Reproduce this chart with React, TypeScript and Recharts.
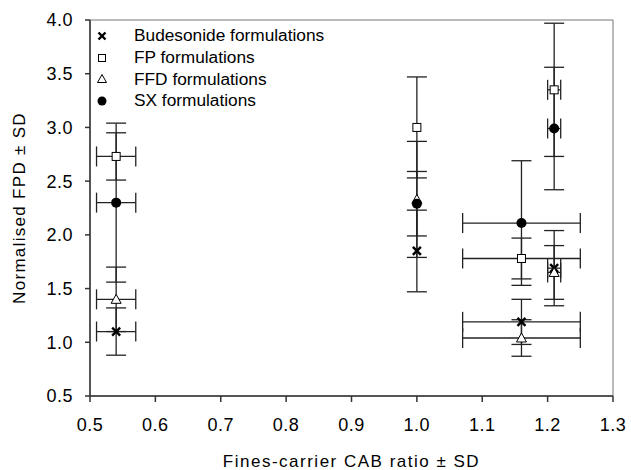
import React from 'react';
import {
    ScatterChart, Scatter, XAxis, YAxis, ErrorBar, Legend, ReferenceArea
} from 'recharts';

// fines-carrier CAB ratio (x) and its SD, shared by all four formulation groups
const cabRatio = [0.54, 1.0, 1.16, 1.21];
const cabRatioSD = [0.03, 0, 0.09, 0.01];

// normalised FPD (y) and SD per formulation group
const budesonideFPD = [1.10, 1.85, 1.19, 1.69];
const budesonideSD = [0.22, 0.38, 0.21, 0.35];
const fpFPD = [2.73, 3.00, 1.78, 3.35];
const fpSD = [0.22, 0.47, 0.19, 0.62];
const ffdFPD = [1.40, 2.33, 1.04, 1.65];
const ffdSD = [0.30, 0.54, 0.17, 0.25];
const sxFPD = [2.30, 2.29, 2.11, 2.99];
const sxSD = [0.74, 0.30, 0.58, 0.57];

const xTicks = [0.5, 0.6, 0.7, 0.8, 0.9, 1.0, 1.1, 1.2, 1.3];
const yTicks = [0.5, 1.0, 1.5, 2.0, 2.5, 3.0, 3.5, 4.0];

const FONT = '"Liberation Sans", Arial, sans-serif';

const toRows = (fpd: number[], sd: number[]) =>
    cabRatio.map((x, i) => ({ x, y: fpd[i], ex: cabRatioSD[i], ey: sd[i] }));

type MarkerKind = 'cross' | 'square' | 'triangle' | 'circle';

const Marker = ({ kind, cx, cy, s }: { kind: MarkerKind; cx: number; cy: number; s: number }) => {
    const h = s / 2;
    if (kind === 'cross') {
        return (
            <g stroke="#000" strokeWidth={2.4}>
                <line x1={cx - h} y1={cy - h} x2={cx + h} y2={cy + h} />
                <line x1={cx - h} y1={cy + h} x2={cx + h} y2={cy - h} />
            </g>
        );
    }
    if (kind === 'square') {
        return <rect x={cx - h} y={cy - h} width={s} height={s} fill="#fff" stroke="#000" strokeWidth={1} />;
    }
    if (kind === 'triangle') {
        return (
            <polygon
                points={`${cx},${cy - h - 1} ${cx + h + 1},${cy + h} ${cx - h - 1},${cy + h}`}
                fill="#fff" stroke="#000" strokeWidth={1}
            />
        );
    }
    return <circle cx={cx} cy={cy} r={h + 0.5} fill="#000" />;
};

const series: { name: string; kind: MarkerKind; data: any[] }[] = [
    { name: 'Budesonide formulations', kind: 'cross', data: toRows(budesonideFPD, budesonideSD) },
    { name: 'FP formulations', kind: 'square', data: toRows(fpFPD, fpSD) },
    { name: 'FFD formulations', kind: 'triangle', data: toRows(ffdFPD, ffdSD) },
    { name: 'SX formulations', kind: 'circle', data: toRows(sxFPD, sxSD) },
];

const LegendBox = () => (
    <div style={{ fontFamily: FONT, fontSize: 17.3, color: '#000' }}>
        {series.map(s => (
            <div key={s.name} style={{ display: 'flex', alignItems: 'center', height: 21.7 }}>
                <svg width={14} height={14} style={{ marginRight: 25 }}>
                    <Marker kind={s.kind} cx={7} cy={7} s={s.kind === 'circle' ? 8 : 7} />
                </svg>
                <span>{s.name}</span>
            </div>
        ))}
    </div>
);

const App: React.FC = () => {
    return (
        <div style={{ position: 'absolute', left: 0, top: 0, background: '#fff' }}>
            <ScatterChart
                width={631}
                height={470}
                margin={{ top: 20, right: 18, left: 0, bottom: 0 }}
            >
                {/* frame around the plot */}
                <ReferenceArea x1={0.5} x2={1.3} y1={0.5} y2={4.0} fill="none" stroke="#777" strokeWidth={1} />
                <XAxis
                    type="number"
                    dataKey="x"
                    domain={[0.5, 1.3]}
                    ticks={xTicks}
                    tickFormatter={(v: number) => v.toFixed(1)}
                    height={74}
                    tickSize={6}
                    tickMargin={16}
                    stroke="#333"
                    strokeWidth={1.5}
                    tick={{ fontFamily: FONT, fontSize: 18, fill: '#000', letterSpacing: 0.5 }}
                    label={{
                        value: 'Fines-carrier CAB ratio \u00b1 SD',
                        position: 'insideBottom',
                        offset: 3,
                        style: { fontFamily: FONT, fontSize: 17, fill: '#000', letterSpacing: 1.5 },
                    }}
                />
                <YAxis
                    type="number"
                    dataKey="y"
                    domain={[0.5, 4.0]}
                    ticks={yTicks}
                    tickFormatter={(v: number) => v.toFixed(1)}
                    width={90}
                    tickSize={5}
                    tickMargin={12}
                    stroke="#333"
                    strokeWidth={1.5}
                    tick={{ fontFamily: FONT, fontSize: 18, fill: '#000', letterSpacing: 0.5 }}
                    label={{
                        value: 'Normalised FPD \u00b1 SD',
                        angle: -90,
                        position: 'insideLeft',
                        offset: 19,
                        style: { fontFamily: FONT, fontSize: 17, fill: '#000', textAnchor: 'middle', letterSpacing: 1.3 },
                    }}
                />
                {series.map(s => (
                    <Scatter
                        key={s.name}
                        name={s.name}
                        data={s.data}
                        isAnimationActive={false}
                        shape={(p: any) => <Marker kind={s.kind} cx={p.cx} cy={p.cy} s={s.kind === 'circle' ? 9 : 8} />}
                    >
                        <ErrorBar dataKey="ey" direction="y" width={10} stroke="#222" strokeWidth={1.3} />
                        <ErrorBar dataKey="ex" direction="x" width={10} stroke="#222" strokeWidth={1.3} />
                    </Scatter>
                ))}
                <Legend
                    layout="vertical"
                    align="center"
                    verticalAlign="middle"
                    content={() => <LegendBox />}
                    wrapperStyle={{ left: 95, top: 25, width: 'auto', height: 'auto' }}
                />
            </ScatterChart>
        </div>
    );
};

export default App;
